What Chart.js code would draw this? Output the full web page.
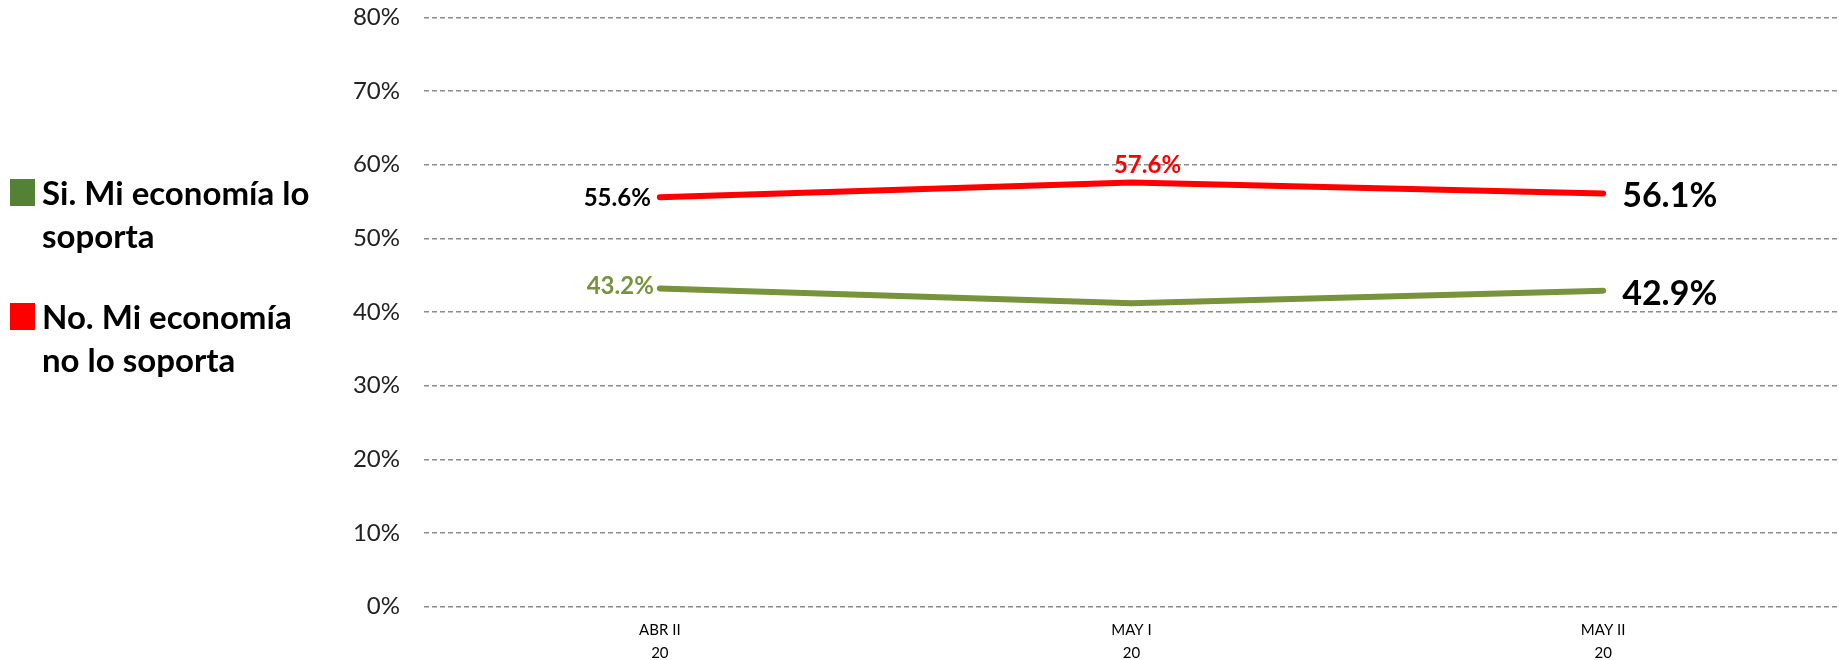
<!DOCTYPE html>
<html>
<head>
<meta charset="utf-8">
<script src="https://cdn.jsdelivr.net/npm/chart.js@4.4.0/dist/chart.umd.min.js"></script>
<style>
  html, body { margin: 0; padding: 0; background: #fff; }
  #caja { position: absolute; left: 0; top: 0; width: 1839px; height: 660px; }
  .leyenda { position: absolute; left: 10px; font-family: Lato, "Open Sans", sans-serif;
    font-weight: bold; font-size: 33px; line-height: 43px; color: #000; white-space: nowrap; }
  .leyenda .cuadro { position: absolute; left: 0; width: 25px; height: 27px; }
  .leyenda .texto { position: absolute; left: 32px; }
</style>
</head>
<body>
<div id="caja"><canvas id="grafico"></canvas></div>
<div class="leyenda" style="top:176px"><div class="cuadro" style="top:3px;background:#548235"></div><div class="texto" style="top:-5px">Si. Mi economía lo<br>soporta</div></div>
<div class="leyenda" style="top:300px"><div class="cuadro" style="top:3px;background:#ff0000"></div><div class="texto" style="top:-5px">No. Mi economía<br>no lo soporta</div></div>
<script>
// Datos
const categorias = [["ABR II", "20"], ["MAY I", "20"], ["MAY II", "20"]];
const siSoporta = [43.2, 41.2, 42.9];
const noSoporta = [55.6, 57.6, 56.1];
const ejeMin = 0;
const ejeMax = 80;
const ejePaso = 10;

const fuente = 'Lato, "Open Sans", sans-serif';

// Etiquetas de valores sobre los puntos
const etiquetas = {
  id: "etiquetas",
  afterDatasetsDraw(chart) {
    const ctx = chart.ctx;
    chart.data.datasets.forEach((ds, i) => {
      const meta = chart.getDatasetMeta(i);
      meta.data.forEach((pt, j) => {
        let estilo = null;
        const ultimo = j === ds.data.length - 1;
        if (i === 0 && j === 0) estilo = { color: "#77933C", size: 24, align: "right", dx: -6, dy: -2 };
        if (i === 1 && j === 0) estilo = { color: "#000", size: 24, align: "right", dx: -9, dy: 1 };
        if (i === 1 && j === 1) estilo = { color: "#ff0000", size: 24, align: "center", dx: 16, dy: -17 };
        if (ultimo) estilo = { color: "#000", size: 34, align: "left", dx: 19, dy: 3 };
        if (!estilo) return;
        ctx.save();
        ctx.font = `bold ${estilo.size}px ${fuente}`;
        ctx.fillStyle = estilo.color;
        ctx.textAlign = estilo.align;
        ctx.textBaseline = "middle";
        ctx.fillText(ds.data[j].toFixed(1) + "%", pt.x + estilo.dx, pt.y + estilo.dy);
        ctx.restore();
      });
    });
  }
};

const ctx = document.getElementById("grafico").getContext("2d");
const grafico = new Chart(ctx, {
  type: "line",
  data: {
    labels: categorias,
    datasets: [
      {
        label: "Si. Mi economía lo soporta",
        data: siSoporta,
        borderColor: "#77933C",
        borderWidth: 6,
        borderCapStyle: "round",
        pointRadius: 0,
        tension: 0
      },
      {
        label: "No. Mi economía no lo soporta",
        data: noSoporta,
        borderColor: "#ff0000",
        borderWidth: 6,
        borderCapStyle: "round",
        pointRadius: 0,
        tension: 0
      }
    ]
  },
  options: {
    responsive: true,
    maintainAspectRatio: false,
    animation: false,
    layout: { padding: { left: 330, top: 17.5, right: 0, bottom: 0 } },
    plugins: {
      legend: { display: false },
      tooltip: { enabled: false }
    },
    scales: {
      x: {
        offset: true,
        grid: { display: false, drawTicks: false },
        border: { display: false },
        ticks: {
          color: "#000",
          font: { family: fuente, size: 15, lineHeight: 1.55 },
          padding: 12,
          maxRotation: 0
        },
        afterFit(scale) { scale.height = 53.5; }
      },
      y: {
        min: ejeMin,
        max: ejeMax,
        grid: { color: "#8c8c8c", lineWidth: 1.5, drawTicks: false },
        border: { display: false, dash: [5, 3] },
        ticks: {
          stepSize: ejePaso,
          color: "#222",
          font: { family: fuente, size: 24 },
          padding: 24,
          callback: v => v + "%"
        },
        afterFit(scale) {
          scale.width = 94;
          scale.paddingTop = 0;
          scale.paddingBottom = 0;
        }
      }
    }
  },
  plugins: [etiquetas]
});
</script>
</body>
</html>
